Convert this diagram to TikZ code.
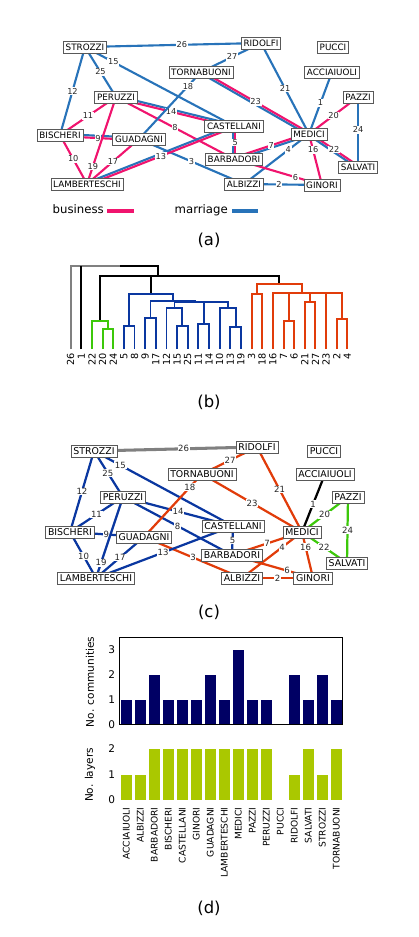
\documentclass[tikz,border=0pt]{standalone}
\usepackage{fontspec}
\setmainfont{DejaVu Sans}
\usetikzlibrary{calc}
\pgfdeclarelayer{edges}
\pgfsetlayers{edges,main}

\definecolor{bizpink}{RGB}{240,20,110}
\definecolor{marblue}{RGB}{40,115,185}
\definecolor{comblue}{RGB}{10,55,160}
\definecolor{comred}{RGB}{225,60,10}
\definecolor{comgreen}{RGB}{60,200,10}
\definecolor{comgray}{RGB}{128,128,128}
\definecolor{barnavy}{RGB}{0,0,100}
\definecolor{barlime}{RGB}{170,200,0}

\tikzstyle{family}=[draw=black!65, fill=white, line width=0.6pt,
    inner xsep=2pt, inner ysep=0pt, minimum height=10pt,
    font=\fontsize{7.5}{8}\selectfont]
\tikzstyle{familyc}=[family, minimum height=10.5pt, font=\fontsize{8}{9}\selectfont]
\tikzstyle{num}=[fill=white, inner sep=0.6pt, font=\fontsize{7}{8}\selectfont, text=black!85]
\tikzstyle{numc}=[num, font=\fontsize{7.3}{8}\selectfont]
\tikzstyle{biz}=[bizpink, line width=1.8pt]
\tikzstyle{mar}=[marblue, line width=1.8pt]
\tikzstyle{cblue}=[comblue, line width=1.9pt]
\tikzstyle{cred}=[comred, line width=1.9pt]
\tikzstyle{cgreen}=[comgreen, line width=1.9pt]
\tikzstyle{tree}=[line width=1.7pt]
\tikzstyle{leaf}=[rotate=90, anchor=east, inner sep=1pt, font=\fontsize{8.3}{9}\selectfont]
\tikzstyle{barname}=[rotate=90, anchor=east, inner sep=1pt, font=\fontsize{7.8}{9}\selectfont]
\tikzstyle{tick}=[inner sep=0pt, font=\fontsize{9}{10}\selectfont]
\tikzstyle{legend}=[inner sep=0pt, font=\fontsize{10}{12}\selectfont]
\tikzstyle{panel}=[font=\fontsize{14}{16}\selectfont]

\begin{document}
\begin{tikzpicture}[x=0.3mm, y=-0.3mm]
\useasboundingbox (0,0) rectangle (419,937);

% (a) the two layers
\node[family] (a-strozzi) at (85,47) {STROZZI};
\node[family] (a-ridolfi) at (261,43) {RIDOLFI};
\node[family] (a-pucci) at (333,47) {PUCCI};
\node[family] (a-tornabuoni) at (201,72) {TORNABUONI};
\node[family] (a-acciaiuoli) at (332,72) {ACCIAIUOLI};
\node[family] (a-peruzzi) at (116,97) {PERUZZI};
\node[family] (a-pazzi) at (358,97) {PAZZI};
\node[family] (a-castellani) at (234,126) {CASTELLANI};
\node[family] (a-bischeri) at (60,135) {BISCHERI};
\node[family] (a-guadagni) at (139,139) {GUADAGNI};
\node[family] (a-medici) at (309,134) {MEDICI};
\node[family] (a-barbadori) at (234,159) {BARBADORI};
\node[family] (a-salvati) at (358,167) {SALVATI};
\node[family] (a-lamberteschi) at (87,184) {LAMBERTESCHI};
\node[family] (a-albizzi) at (244,184) {ALBIZZI};
\node[family] (a-ginori) at (322,185) {GINORI};

\begin{pgfonlayer}{edges}
\draw[mar] (a-acciaiuoli.center) -- node[num]{1} (a-medici.center);
\draw[mar] (a-albizzi.center) -- node[num,pos=.45]{2} (a-ginori.center);
\draw[mar] (a-guadagni.center) -- node[num]{3} (a-albizzi.center);
\draw[mar] (a-albizzi.center) -- node[num,pos=.68]{4} (a-medici.center);
\draw[mar] ($(a-castellani.center)!1pt!-90:(a-barbadori.center)$) -- ($(a-barbadori.center)!1pt!90:(a-castellani.center)$);
\draw[biz] ($(a-castellani.center)!1pt!90:(a-barbadori.center)$) -- node[num]{5} ($(a-barbadori.center)!1pt!-90:(a-castellani.center)$);
\draw[biz] (a-barbadori.center) -- node[num,pos=.7]{6} (a-ginori.center);
\draw[mar] ($(a-barbadori.center)!1pt!-90:(a-medici.center)$) -- ($(a-medici.center)!1pt!90:(a-barbadori.center)$);
\draw[biz] ($(a-barbadori.center)!1pt!90:(a-medici.center)$) -- node[num]{7} ($(a-medici.center)!1pt!-90:(a-barbadori.center)$);
\draw[biz] (a-peruzzi.center) -- node[num]{8} (a-barbadori.center);
\draw[mar] ($(a-bischeri.center)!1pt!90:(a-guadagni.center)$) -- ($(a-guadagni.center)!1pt!-90:(a-bischeri.center)$);
\draw[biz] ($(a-bischeri.center)!1pt!-90:(a-guadagni.center)$) -- node[num,pos=.48]{9} ($(a-guadagni.center)!1pt!90:(a-bischeri.center)$);
\draw[biz] (a-bischeri.center) -- node[num,pos=.49]{10} (a-lamberteschi.center);
\draw[biz] (a-bischeri.center) -- node[num]{11} (a-peruzzi.center);
\draw[mar] (a-strozzi.center) -- node[num]{12} (a-bischeri.center);
\draw[mar] ($(a-castellani.center)!1pt!-90:(a-lamberteschi.center)$) -- ($(a-lamberteschi.center)!1pt!90:(a-castellani.center)$);
\draw[biz] ($(a-castellani.center)!1pt!90:(a-lamberteschi.center)$) -- node[num]{13} ($(a-lamberteschi.center)!1pt!-90:(a-castellani.center)$);
\draw[mar] ($(a-castellani.center)!1pt!-90:(a-peruzzi.center)$) -- ($(a-peruzzi.center)!1pt!90:(a-castellani.center)$);
\draw[biz] ($(a-castellani.center)!1pt!90:(a-peruzzi.center)$) -- node[num,pos=.53]{14} ($(a-peruzzi.center)!1pt!-90:(a-castellani.center)$);
\draw[mar] (a-strozzi.center) -- node[num,pos=.19]{15} (a-castellani.center);
\draw[biz] (a-medici.center) -- node[num,pos=.31]{16} (a-ginori.center);
\draw[biz] (a-guadagni.center) -- node[num]{17} (a-lamberteschi.center);
\draw[mar] (a-guadagni.center) -- node[num,pos=.79]{18} (a-tornabuoni.center);
\draw[biz] (a-peruzzi.center) -- node[num,pos=.8]{19} (a-lamberteschi.center);
\draw[biz] (a-pazzi.center) -- node[num]{20} (a-medici.center);
\draw[mar] (a-ridolfi.center) -- node[num]{21} (a-medici.center);
\draw[mar] ($(a-medici.center)!1pt!-90:(a-salvati.center)$) -- ($(a-salvati.center)!1pt!90:(a-medici.center)$);
\draw[biz] ($(a-medici.center)!1pt!90:(a-salvati.center)$) -- node[num]{22} ($(a-salvati.center)!1pt!-90:(a-medici.center)$);
\draw[mar] ($(a-tornabuoni.center)!1pt!-90:(a-medici.center)$) -- ($(a-medici.center)!1pt!90:(a-tornabuoni.center)$);
\draw[biz] ($(a-tornabuoni.center)!1pt!90:(a-medici.center)$) -- node[num]{23} ($(a-medici.center)!1pt!-90:(a-tornabuoni.center)$);
\draw[mar] (a-pazzi.center) -- node[num,pos=.47]{24} (a-salvati.center);
\draw[mar] (a-strozzi.center) -- node[num]{25} (a-peruzzi.center);
\draw[mar] (a-strozzi.center) -- node[num,pos=.55]{26} (a-ridolfi.center);
\draw[mar] (a-ridolfi.center) -- node[num,pos=.48]{27} (a-tornabuoni.center);
\end{pgfonlayer}

\node[legend, anchor=base east] (leg-biz) at (104,214) {business};
\draw[biz, line width=2.8pt] ($(leg-biz.base east)+(3,-3)$) -- ++(27,0);
\node[legend, anchor=base east] (leg-mar) at (228,214) {marriage};
\draw[mar, line width=2.8pt] ($(leg-mar.base east)+(4,-3)$) -- ++(26,0);
\node[panel] (lab-a) at (209,240) {(a)};

% (b) dendrogram of the edges
\draw[tree, comgray] (70.7,349) -- (70.7,266) -- (120,266);
\draw[tree] (120,266) -- (158.3,266) -- (158.3,276);
\draw[tree] (81.3,349) -- (81.3,266);
\draw[tree] (100,320.7) -- (100,276) -- (279.3,276) -- (279.3,284);
\draw[tree] (151,293.7) -- (151,276);
\draw[tree, comgreen] (92,349) -- (92,320.7) -- (108,320.7) -- (108,329.3);
\draw[tree, comgreen] (102.6,349) -- (102.6,329.3) -- (113.3,329.3) -- (113.3,349);
\draw[tree, comblue] (123.9,349) -- (123.9,326) -- (134.5,326) -- (134.5,349);
\draw[tree, comblue] (145.2,349) -- (145.2,318.3) -- (155.8,318.3) -- (155.8,349);
\draw[tree, comblue] (177.1,349) -- (177.1,326) -- (187.7,326) -- (187.7,349);
\draw[tree, comblue] (166.5,349) -- (166.5,307.7) -- (182.4,307.7) -- (182.4,326);
\draw[tree, comblue] (198.4,349) -- (198.4,324) -- (209,324) -- (209,349);
\draw[tree, comblue] (230.3,349) -- (230.3,326.7) -- (240.9,326.7) -- (240.9,349);
\draw[tree, comblue] (219.7,349) -- (219.7,307.7) -- (235.6,307.7) -- (235.6,326.7);
\draw[tree, comblue] (174.5,307.7) -- (174.5,302.3) -- (227.7,302.3) -- (227.7,307.7);
\draw[tree, comblue] (203.7,324) -- (203.7,302.3);
\draw[tree, comblue] (150.5,318.3) -- (150.5,300.7) -- (195,300.7) -- (195,302.3);
\draw[tree, comblue] (129.2,326) -- (129.2,293.7) -- (172.7,293.7) -- (172.7,300.7);
\draw[tree, comred] (251.6,349) -- (251.6,293.7) -- (262.2,293.7) -- (262.2,349);
\draw[tree, comred] (283.5,349) -- (283.5,320.7) -- (294.1,320.7) -- (294.1,349);
\draw[tree, comred] (304.8,349) -- (304.8,301.7) -- (315.4,301.7) -- (315.4,349);
\draw[tree, comred] (336.7,349) -- (336.7,319) -- (347.3,319) -- (347.3,349);
\draw[tree, comred] (272.9,349) -- (272.9,292.7) -- (342,292.7) -- (342,319);
\draw[tree, comred] (326.1,349) -- (326.1,292.7);
\draw[tree, comred] (288.8,320.7) -- (288.8,292.7);
\draw[tree, comred] (310.1,301.7) -- (310.1,292.7);
\draw[tree, comred] (256.9,293.7) -- (256.9,284) -- (301.7,284) -- (301.7,292.7);

\node[leaf] (leaf26) at (70.7,352) {26};
\node[leaf] (leaf1) at (81.3,352) {1};
\node[leaf] (leaf22) at (92,352) {22};
\node[leaf] (leaf20) at (102.6,352) {20};
\node[leaf] (leaf24) at (113.3,352) {24};
\node[leaf] (leaf5) at (123.9,352) {5};
\node[leaf] (leaf8) at (134.5,352) {8};
\node[leaf] (leaf9) at (145.2,352) {9};
\node[leaf] (leaf17) at (155.8,352) {17};
\node[leaf] (leaf12) at (166.5,352) {12};
\node[leaf] (leaf15) at (177.1,352) {15};
\node[leaf] (leaf25) at (187.7,352) {25};
\node[leaf] (leaf11) at (198.4,352) {11};
\node[leaf] (leaf14) at (209,352) {14};
\node[leaf] (leaf10) at (219.7,352) {10};
\node[leaf] (leaf13) at (230.3,352) {13};
\node[leaf] (leaf19) at (240.9,352) {19};
\node[leaf] (leaf3) at (251.6,352) {3};
\node[leaf] (leaf18) at (262.2,352) {18};
\node[leaf] (leaf16) at (272.9,352) {16};
\node[leaf] (leaf7) at (283.5,352) {7};
\node[leaf] (leaf6) at (294.1,352) {6};
\node[leaf] (leaf21) at (304.8,352) {21};
\node[leaf] (leaf27) at (315.4,352) {27};
\node[leaf] (leaf23) at (326.1,352) {23};
\node[leaf] (leaf2) at (336.7,352) {2};
\node[leaf] (leaf4) at (347.3,352) {4};
\node[panel] (lab-b) at (209,402) {(b)};

% (c) edge communities
\node[familyc] (c-strozzi) at (94,451) {STROZZI};
\node[familyc] (c-ridolfi) at (257,447) {RIDOLFI};
\node[familyc] (c-pucci) at (324,451) {PUCCI};
\node[familyc] (c-tornabuoni) at (202,474) {TORNABUONI};
\node[familyc] (c-acciaiuoli) at (325,474) {ACCIAIUOLI};
\node[familyc] (c-peruzzi) at (123,497) {PERUZZI};
\node[familyc] (c-pazzi) at (348,497) {PAZZI};
\node[familyc] (c-bischeri) at (70,532) {BISCHERI};
\node[familyc] (c-guadagni) at (144,537) {GUADAGNI};
\node[familyc] (c-castellani) at (233,526) {CASTELLANI};
\node[familyc] (c-medici) at (302,532) {MEDICI};
\node[familyc] (c-barbadori) at (232,555) {BARBADORI};
\node[familyc] (c-salvati) at (347,563) {SALVATI};
\node[familyc] (c-lamberteschi) at (96,578) {LAMBERTESCHI};
\node[familyc] (c-albizzi) at (242,578) {ALBIZZI};
\node[familyc] (c-ginori) at (313,578) {GINORI};

\begin{pgfonlayer}{edges}
\draw[line width=1.9pt] (c-acciaiuoli.center) -- node[numc,pos=.52]{1} (c-medici.center);
\draw[cred] (c-albizzi.center) -- node[numc]{2} (c-ginori.center);
\draw[cred] (c-guadagni.center) -- node[numc]{3} (c-albizzi.center);
\draw[cred] (c-albizzi.center) -- node[numc,pos=.67]{4} (c-medici.center);
\draw[cblue] (c-castellani.center) -- node[numc]{5} (c-barbadori.center);
\draw[cred] (c-barbadori.center) -- node[numc,pos=.68]{6} (c-ginori.center);
\draw[cred] (c-barbadori.center) -- node[numc]{7} (c-medici.center);
\draw[cblue] (c-peruzzi.center) -- node[numc]{8} (c-barbadori.center);
\draw[cblue] (c-bischeri.center) -- node[numc,pos=.49]{9} (c-guadagni.center);
\draw[cblue] (c-bischeri.center) -- node[numc,pos=.52]{10} (c-lamberteschi.center);
\draw[cblue] (c-bischeri.center) -- node[numc]{11} (c-peruzzi.center);
\draw[cblue] (c-strozzi.center) -- node[numc]{12} (c-bischeri.center);
\draw[cblue] (c-lamberteschi.center) -- node[numc,pos=.49]{13} (c-castellani.center);
\draw[cblue] (c-peruzzi.center) -- node[numc]{14} (c-castellani.center);
\draw[cblue] (c-strozzi.center) -- node[numc,pos=.19]{15} (c-castellani.center);
\draw[cred] (c-medici.center) -- node[numc,pos=.33]{16} (c-ginori.center);
\draw[cblue] (c-guadagni.center) -- node[numc]{17} (c-lamberteschi.center);
\draw[cred] (c-guadagni.center) -- node[numc,pos=.79]{18} (c-tornabuoni.center);
\draw[cblue] (c-peruzzi.center) -- node[numc,pos=.81]{19} (c-lamberteschi.center);
\draw[cgreen] (c-pazzi.center) -- node[numc,pos=.51]{20} (c-medici.center);
\draw[cred] (c-ridolfi.center) -- node[numc]{21} (c-medici.center);
\draw[cgreen] (c-medici.center) -- node[numc,pos=.49]{22} (c-salvati.center);
\draw[cred] (c-tornabuoni.center) -- node[numc]{23} (c-medici.center);
\draw[cgreen] (c-pazzi.center) -- node[numc]{24} (c-salvati.center);
\draw[cblue] (c-strozzi.center) -- node[numc,pos=.48]{25} (c-peruzzi.center);
\draw[comgray, line width=2.6pt] (c-strozzi.center) -- node[numc,pos=.55]{26} (c-ridolfi.center);
\draw[cred] (c-ridolfi.center) -- node[numc,pos=.49]{27} (c-tornabuoni.center);
\end{pgfonlayer}
\node[panel] (lab-c) at (209,612) {(c)};

% (d) communities and layers per family
\fill[barnavy] (121,724.7) rectangle (131.6,699.7);
\fill[barnavy] (135,724.7) rectangle (145.6,699.7);
\fill[barnavy] (149,724.7) rectangle (159.6,674.7);
\fill[barnavy] (163,724.7) rectangle (173.6,699.7);
\fill[barnavy] (177,724.7) rectangle (187.6,699.7);
\fill[barnavy] (191,724.7) rectangle (201.6,699.7);
\fill[barnavy] (205,724.7) rectangle (215.6,674.7);
\fill[barnavy] (219,724.7) rectangle (229.6,699.7);
\fill[barnavy] (233,724.7) rectangle (243.6,649.7);
\fill[barnavy] (247,724.7) rectangle (257.6,699.7);
\fill[barnavy] (261,724.7) rectangle (271.6,699.7);
\fill[barnavy] (289,724.7) rectangle (299.6,674.7);
\fill[barnavy] (303,724.7) rectangle (313.6,699.7);
\fill[barnavy] (317,724.7) rectangle (327.6,674.7);
\fill[barnavy] (331,724.7) rectangle (341.6,699.7);
\draw[line width=0.6pt] (119,637.3) rectangle (342.7,724.7);
\node[tick] (tk-c0) at (111.7,724.7) {0};
\node[tick] (tk-c1) at (111.7,699.7) {1};
\node[tick] (tk-c2) at (111.7,674.7) {2};
\node[tick] (tk-c3) at (111.7,649.7) {3};
\node[tick, rotate=90] (ax-comm) at (90,682) {No. communities};

\fill[barlime] (121,800) rectangle (131.6,774.5);
\fill[barlime] (135,800) rectangle (145.6,774.5);
\fill[barlime] (149,800) rectangle (159.6,749);
\fill[barlime] (163,800) rectangle (173.6,749);
\fill[barlime] (177,800) rectangle (187.6,749);
\fill[barlime] (191,800) rectangle (201.6,749);
\fill[barlime] (205,800) rectangle (215.6,749);
\fill[barlime] (219,800) rectangle (229.6,749);
\fill[barlime] (233,800) rectangle (243.6,749);
\fill[barlime] (247,800) rectangle (257.6,749);
\fill[barlime] (261,800) rectangle (271.6,749);
\fill[barlime] (289,800) rectangle (299.6,774.5);
\fill[barlime] (303,800) rectangle (313.6,749);
\fill[barlime] (317,800) rectangle (327.6,774.5);
\fill[barlime] (331,800) rectangle (341.6,749);
\node[tick] (tk-l0) at (111.7,800) {0};
\node[tick] (tk-l1) at (111.7,774.5) {1};
\node[tick] (tk-l2) at (111.7,749) {2};
\node[tick, rotate=90] (ax-layers) at (90,775) {No. layers};

\node[barname] (bar-acciaiuoli) at (126.3,806) {ACCIAIUOLI};
\node[barname] (bar-albizzi) at (140.3,806) {ALBIZZI};
\node[barname] (bar-barbadori) at (154.3,806) {BARBADORI};
\node[barname] (bar-bischeri) at (168.3,806) {BISCHERI};
\node[barname] (bar-castellani) at (182.3,806) {CASTELLANI};
\node[barname] (bar-ginori) at (196.3,806) {GINORI};
\node[barname] (bar-guadagni) at (210.3,806) {GUADAGNI};
\node[barname] (bar-lamberteschi) at (224.3,806) {LAMBERTESCHI};
\node[barname] (bar-medici) at (238.3,806) {MEDICI};
\node[barname] (bar-pazzi) at (252.3,806) {PAZZI};
\node[barname] (bar-peruzzi) at (266.3,806) {PERUZZI};
\node[barname] (bar-pucci) at (280.3,806) {PUCCI};
\node[barname] (bar-ridolfi) at (294.3,806) {RIDOLFI};
\node[barname] (bar-salvati) at (308.3,806) {SALVATI};
\node[barname] (bar-strozzi) at (322.3,806) {STROZZI};
\node[barname] (bar-tornabuoni) at (336.3,806) {TORNABUONI};
\node[panel] (lab-d) at (209,908) {(d)};
\end{tikzpicture}
\end{document}
